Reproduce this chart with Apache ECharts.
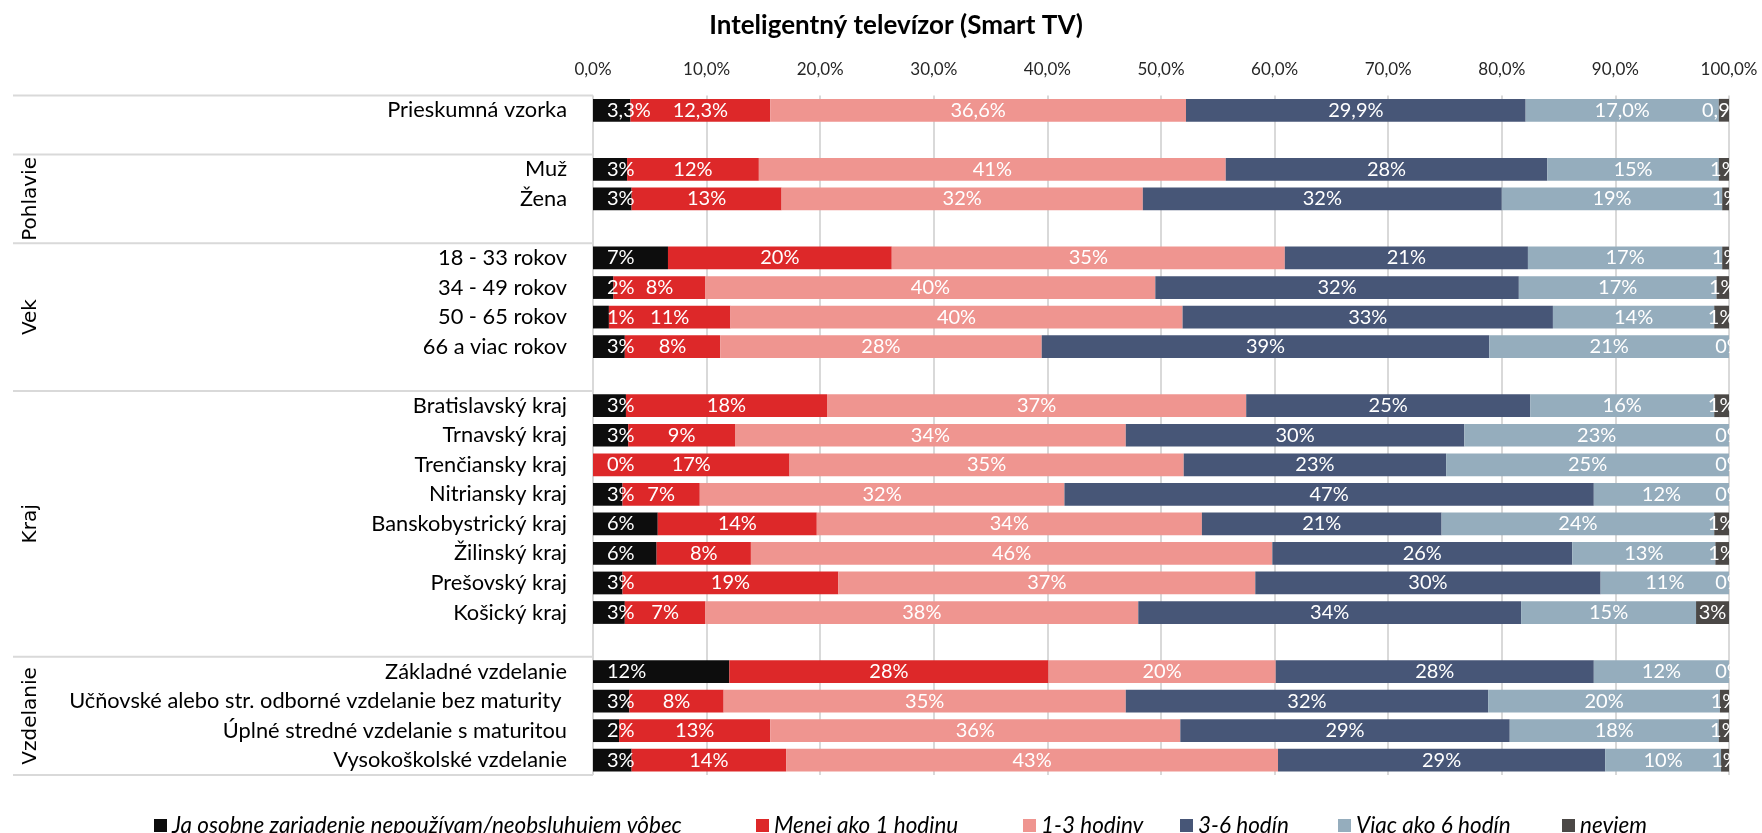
<!DOCTYPE html>
<html>
<head>
<meta charset="utf-8">
<title>Inteligentný televízor (Smart TV)</title>
<script src="https://cdn.jsdelivr.net/npm/echarts/dist/echarts.min.js"></script>
<style>
  html, body { margin: 0; padding: 0; background: #fff; }
  #chart { width: 1762px; height: 833px; }
</style>
</head>
<body>
<div id="chart"></div>
<script>
// rows of the chart, blank strings are the spacer rows between groups
const categories = [
  'Prieskumná vzorka', '',
  'Muž', 'Žena', '',
  '18 - 33 rokov', '34 - 49 rokov', '50 - 65 rokov', '66 a viac rokov', '',
  'Bratislavský kraj', 'Trnavský kraj', 'Trenčiansky kraj', 'Nitriansky kraj',
  'Banskobystrický kraj', 'Žilinský kraj', 'Prešovský kraj', 'Košický kraj', '',
  'Základné vzdelanie', 'Učňovské alebo str. odborné vzdelanie bez maturity ',
  'Úplné stredné vzdelanie s maturitou', 'Vysokoškolské vzdelanie'
];
const groupNames = ['', 'Pohlavie', 'Vek', 'Kraj', 'Vzdelanie'];
const groupSizes = [2, 3, 5, 9, 4];

const seriesNames = [
  'Ja osobne zariadenie nepoužívam/neobsluhujem vôbec',
  'Menej ako 1 hodinu', '1-3 hodiny', '3-6 hodín', 'Viac ako 6 hodín', 'neviem'
];
const seriesColors = ['#0d0d0d', '#dd2829', '#ef9590', '#475677', '#95adbd', '#4b4846'];

const nepouzivam = [3.3, null, 3.0, 3.4, null, 6.6, 1.8, 1.4, 2.8, null, 2.9, 3.1, 0.0, 2.6, 5.7, 5.6, 2.6, 2.8, null, 12.0, 3.2, 2.3, 3.4];
const menejAko1 = [12.3, null, 11.6, 13.2, null, 19.7, 8.1, 10.7, 8.4, null, 17.7, 9.4, 17.3, 6.8, 14.0, 8.3, 19.0, 7.1, null, 28.1, 8.3, 13.3, 13.6];
const hodiny1az3 = [36.6, null, 41.1, 31.8, null, 34.6, 39.6, 39.8, 28.3, null, 36.9, 34.4, 34.7, 32.1, 33.9, 45.9, 36.7, 38.1, null, 20.0, 35.4, 36.1, 43.3];
const hodin3az6 = [29.9, null, 28.3, 31.6, null, 21.4, 32.0, 32.6, 39.4, null, 25.0, 29.8, 23.1, 46.6, 21.1, 26.4, 30.4, 33.7, null, 28.0, 31.9, 29.0, 28.8];
const viacAko6 = [17.0, null, 15.1, 19.4, null, 17.1, 17.4, 14.2, 21.1, null, 16.2, 23.3, 24.9, 11.9, 24.0, 12.6, 11.3, 15.4, null, 11.9, 20.4, 18.4, 10.2];
const neviem = [0.9, null, 0.9, 0.6, null, 0.6, 1.1, 1.3, 0.0, null, 1.3, 0.0, 0.0, 0.0, 1.3, 1.2, 0.0, 2.9, null, 0.0, 0.8, 0.9, 0.7];

const seriesData = [nepouzivam, menejAko1, hodiny1az3, hodin3az6, viacAko6, neviem];

const FONT = 'Lato';
const GRID_COLOR = '#d9d9d9';
// x of each legend entry (Excel lays the legend out in columns)
const legendLeft = [149, 751, 1018, 1175, 1333, 1557];

// first row shows one decimal, the rest whole percents
const formatPct = (v, digits) => v.toFixed(digits).replace('.', ',') + '%';

const chart = echarts.init(document.getElementById('chart'));

const option = {
  backgroundColor: '#fff',
  animation: false,
  textStyle: { fontFamily: FONT },
  title: {
    text: 'Inteligentný televízor (Smart TV)',
    left: 891,
    top: 8,
    textAlign: 'center',
    textStyle: { fontFamily: FONT, fontSize: 26, fontWeight: 'bold', color: '#000' }
  },
  legend: seriesNames.map((name, i) => ({
    data: [name],
    left: legendLeft[i],
    top: 809,
    itemWidth: 13,
    itemHeight: 13,
    icon: 'rect',
    textStyle: { fontFamily: FONT, fontSize: 22.5, fontStyle: 'italic', color: '#000' }
  })),
  grid: { left: 593, right: 33, top: 95.5, bottom: 58, containLabel: false },
  xAxis: {
    type: 'value',
    position: 'top',
    min: 0,
    max: 100,
    interval: 10,
    axisLine: { show: false },
    axisTick: { show: false },
    axisLabel: {
      margin: 17,
      fontSize: 17,
      color: '#262626',
      fontFamily: FONT,
      showMaxLabel: true,
      formatter: (v) => formatPct(v, 1)
    },
    splitLine: { show: true, lineStyle: { color: GRID_COLOR, width: 2 } }
  },
  yAxis: {
    type: 'category',
    inverse: true,
    data: categories,
    axisLine: { show: false },
    axisTick: { show: false },
    axisLabel: { margin: 26, fontSize: 21.8, color: '#000', fontFamily: FONT }
  },
  series: seriesData.map((data, i) => ({
    name: seriesNames[i],
    type: 'bar',
    stack: 'total',
    barCategoryGap: '23%',
    data: data,
    itemStyle: { color: seriesColors[i] },
    label: {
      show: true,
      position: i === 0 ? 'insideLeft' : 'inside',
      distance: i === 0 ? 14 : 5,
      color: '#fff',
      fontSize: 20,
      fontFamily: FONT,
      formatter: (p) => p.value == null ? '' : formatPct(p.value, p.dataIndex === 0 ? 1 : 0)
    }
  }))
};

chart.setOption(option);

// group separators and rotated group names left of the category labels
function drawGroups() {
  const y0 = chart.convertToPixel({ yAxisIndex: 0 }, 0);
  const y1 = chart.convertToPixel({ yAxisIndex: 0 }, 1);
  const band = y1 - y0;
  const axisX = chart.convertToPixel({ xAxisIndex: 0 }, 0);
  const edge = (idx) => y0 + (idx - 0.5) * band;

  const graphic = [];
  let start = 0;
  graphic.push({
    type: 'line', silent: true,
    shape: { x1: 13, y1: edge(0), x2: axisX, y2: edge(0) },
    style: { stroke: GRID_COLOR, lineWidth: 2 }
  });
  groupSizes.forEach((size, g) => {
    const end = start + size;
    graphic.push({
      type: 'line', silent: true,
      shape: { x1: 13, y1: edge(end), x2: axisX, y2: edge(end) },
      style: { stroke: GRID_COLOR, lineWidth: 2 }
    });
    if (groupNames[g]) {
      graphic.push({
        type: 'text', silent: true,
        x: 31, y: (edge(start) + edge(end)) / 2,
        rotation: Math.PI / 2,
        style: {
          text: groupNames[g],
          fontFamily: 'DejaVu Sans',
          fontSize: 20,
          fill: '#000',
          align: 'center',
          verticalAlign: 'middle'
        }
      });
    }
    start = end;
  });
  chart.setOption({ graphic: graphic });
}
drawGroups();
</script>
</body>
</html>
